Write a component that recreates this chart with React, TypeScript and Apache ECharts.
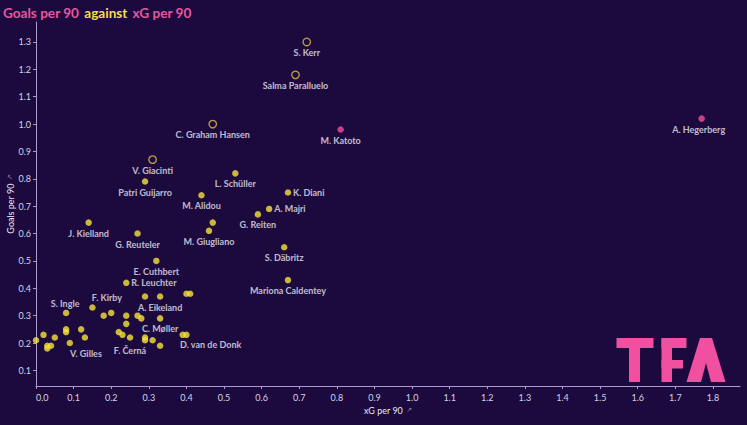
import React, { useEffect, useRef } from 'react';
import * as echarts from 'echarts';

const playerNames = [
  'S. Kerr', 'Salma Paralluelo', 'C. Graham Hansen', 'V. Giacinti',
  'M. Katoto', 'A. Hegerberg',
  'L. Schüller', 'Patri Guijarro', 'M. Alidou', 'K. Diani', 'A. Majri', 'G. Reiten',
  'J. Kielland', '', 'M. Giugliano', 'G. Reuteler', 'S. Däbritz', 'E. Cuthbert',
  'Mariona Caldentey', 'R. Leuchter', '', 'A. Eikeland', '', '', 'S. Ingle', 'F. Kirby',
  '', '', '', '', '', '', 'C. Møller', '', '', 'F. Černá', '', '', '', '',
  'D. van de Donk', '', 'V. Gilles', '', '', '', '', '', '', '', '', '', ''
];
const xgPer90 = [
  0.72, 0.69, 0.47, 0.31,
  0.81, 1.77,
  0.53, 0.29, 0.44, 0.67, 0.62, 0.59,
  0.14, 0.47, 0.46, 0.27, 0.66, 0.32,
  0.67, 0.24, 0.29, 0.33, 0.40, 0.41, 0.08, 0.15,
  0.18, 0.20, 0.24, 0.24, 0.27, 0.28, 0.33, 0.22, 0.23, 0.25, 0.29, 0.29, 0.31, 0.33,
  0.39, 0.40, 0.13, 0.12, 0.09, 0.08, 0.08, 0.05, 0.02, 0.00, 0.03, 0.03, 0.04
];
const goalsPer90 = [
  1.30, 1.18, 1.00, 0.87,
  0.98, 1.02,
  0.82, 0.79, 0.74, 0.75, 0.69, 0.67,
  0.64, 0.64, 0.61, 0.60, 0.55, 0.50,
  0.43, 0.42, 0.37, 0.37, 0.38, 0.38, 0.31, 0.33,
  0.30, 0.31, 0.30, 0.27, 0.30, 0.29, 0.29, 0.24, 0.23, 0.22, 0.22, 0.21, 0.21, 0.19,
  0.23, 0.23, 0.22, 0.25, 0.20, 0.25, 0.24, 0.22, 0.23, 0.21, 0.18, 0.19, 0.19
];
const markerGroup = [
  'ring', 'ring', 'ring', 'ring',
  'pink', 'pink',
  ...Array(47).fill('yellow')
];
const xTickValues = [0.0, 0.1, 0.2, 0.3, 0.4, 0.5, 0.6, 0.7, 0.8, 0.9, 1.0, 1.1, 1.2, 1.3, 1.4, 1.5, 1.6, 1.7, 1.8];
const yTickValues = [0.1, 0.2, 0.3, 0.4, 0.5, 0.6, 0.7, 0.8, 0.9, 1.0, 1.1, 1.2, 1.3];

// label placement (style only): [align, dx, dy]
const labelPlacement: Record<string, [string, number, number]> = {
  'K. Diani': ['left', 5, 0],
  'A. Majri': ['left', 5, 0],
  'R. Leuchter': ['left', 5, 0],
  'A. Hegerberg': ['center', -3, 11],
  'F. Černá': ['center', 0, 12.5],
  'V. Gilles': ['center', 1, 15.5],
  'S. Ingle': ['center', -1, -9.5],
  'F. Kirby': ['center', 14.5, -9.5],
  'D. van de Donk': ['center', 28, 10],
};

const BG = '#1c0a3e';
const YELLOW = '#f6e23c';
const PINK = '#f0509f';
const RING = '#e6c64a';
const AXIS = '#a99ec9';
const TEXT = '#ebe8f4';
const FONT = 'Lato, "Noto Sans", sans-serif';

export default function App() {
  const ref = useRef<HTMLDivElement>(null);
  useEffect(() => {
    const chart = echarts.init(ref.current!, null, { renderer: 'svg' });

    const makeData = (group: string) =>
      playerNames
        .map((name, i) => ({ name, i }))
        .filter(({ i }) => markerGroup[i] === group)
        .map(({ name, i }) => {
          const place = labelPlacement[name] || ['center', 0, 10.5];
          return {
            name,
            value: [xgPer90[i], goalsPer90[i]],
            label: name
              ? {
                  show: true,
                  formatter: name,
                  position: 'inside',
                  align: place[0],
                  verticalAlign: 'middle',
                  offset: [place[1], place[2]],
                  color: TEXT,
                  fontSize: 9,
                  fontWeight: 'bold',
                  fontFamily: FONT,
                }
              : { show: false },
          };
        });

    const T = 616.5, L = 661.5;
    chart.setOption({
      animation: false,
      backgroundColor: BG,
      title: {
        left: 3,
        top: 4,
        padding: 0,
        text: '{p|Goals per 90} {y|against} {p|xG per 90}',
        textStyle: {
          rich: {
            p: { color: '#e5579f', fontSize: 13.6, fontWeight: 'bold', fontFamily: FONT },
            y: { color: '#f2df48', fontSize: 13.6, fontWeight: 'bold', fontFamily: FONT },
          },
        },
      },
      grid: { left: 36, right: 7, top: 22, bottom: 39, containLabel: false, outerBoundsMode: 'none' },
      xAxis: {
        type: 'value',
        min: 0,
        max: 1.872,
        name: '{t|xG per 90} {i|↗}',
        nameLocation: 'middle',
        nameGap: 18,
        nameMoveOverlap: false,
        nameTextStyle: {
          rich: {
            t: { color: TEXT, fontSize: 9, fontFamily: FONT },
            i: { color: '#8f86a8', fontSize: 7, fontFamily: 'DejaVu Sans' },
          },
        },
        axisLine: { show: true, onZero: false, lineStyle: { color: AXIS, width: 1 } },
        axisTick: { show: true, length: 3, lineStyle: { color: AXIS }, customValues: xTickValues },
        axisLabel: {
          customValues: xTickValues,
          formatter: (v: number) => v.toFixed(1),
          color: '#d6d2e4',
          fontSize: 9,
          fontFamily: FONT,
          margin: 7,
          alignMinLabel: 'left',
        },
        splitLine: { show: false },
      },
      yAxis: {
        type: 'value',
        min: 0.043,
        max: 1.373,
        name: '{t|Goals per 90} {i|↗}',
        nameLocation: 'middle',
        nameGap: 20,
        nameMoveOverlap: false,
        nameTextStyle: {
          rich: {
            t: { color: TEXT, fontSize: 9, fontFamily: FONT },
            i: { color: '#8f86a8', fontSize: 7, fontFamily: 'DejaVu Sans' },
          },
        },
        axisLine: { show: true, onZero: false, lineStyle: { color: AXIS, width: 1 } },
        axisTick: { show: true, length: 3, lineStyle: { color: AXIS }, customValues: yTickValues },
        axisLabel: {
          customValues: yTickValues,
          formatter: (v: number) => v.toFixed(1),
          color: '#d6d2e4',
          fontSize: 9,
          fontFamily: FONT,
          margin: 5,
        },
        splitLine: { show: false },
      },
      graphic: [
        // TFA logo
        { type: 'rect', shape: { x: T, y: 338, width: 37, height: 10 }, style: { fill: PINK }, z: 1 },
        { type: 'rect', shape: { x: T + 12.5, y: 338, width: 11, height: 44 }, style: { fill: PINK }, z: 1 },
        { type: 'rect', shape: { x: L, y: 338, width: 10.5, height: 44 }, style: { fill: PINK }, z: 1 },
        { type: 'rect', shape: { x: L, y: 338, width: 25, height: 10 }, style: { fill: PINK }, z: 1 },
        { type: 'rect', shape: { x: L, y: 360, width: 21.5, height: 8.5 }, style: { fill: PINK }, z: 1 },
        {
          type: 'polygon',
          shape: { points: [[700, 338], [712, 338], [725.5, 382], [686.5, 382]] },
          style: { fill: PINK },
          z: 1,
        },
        {
          type: 'polygon',
          shape: { points: [[706, 363], [711, 382], [701, 382]] },
          style: { fill: BG },
          z: 2,
        },
      ],
      series: [
        {
          type: 'scatter',
          symbol: 'circle',
          symbolSize: 7.5,
          itemStyle: { color: BG, borderColor: RING, borderWidth: 1.3 },
          data: makeData('ring'),
          z: 3,
        },
        {
          type: 'scatter',
          symbol: 'circle',
          symbolSize: 6.5,
          itemStyle: { color: PINK },
          data: makeData('pink'),
          z: 3,
        },
        {
          type: 'scatter',
          symbol: 'circle',
          symbolSize: 6.5,
          itemStyle: { color: YELLOW },
          data: makeData('yellow'),
          z: 3,
        },
      ],
    });
    return () => chart.dispose();
  }, []);
  return <div ref={ref} style={{ position: 'fixed', left: 0, top: 0, width: 747, height: 425 }} />;
}
